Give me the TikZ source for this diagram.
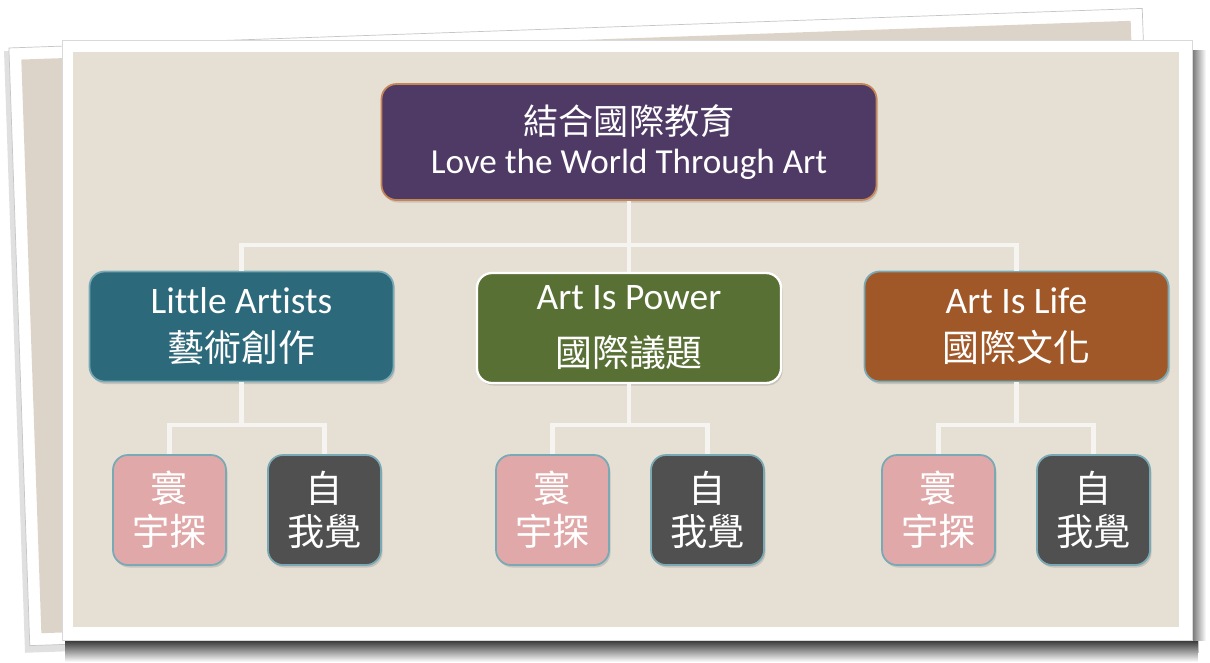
\documentclass[tikz,border=0pt]{standalone}
\usepackage{fontspec}
\setmainfont[Ligatures = NoCommon]{Carlito}
\newfontfamily\cjk{Noto Sans CJK TC}
\usepackage{tikz}
\usetikzlibrary{shadows}

\definecolor{paper}{RGB}{230,223,212}
\definecolor{paperdark}{RGB}{220,212,200}
\definecolor{boxpurple}{RGB}{79,57,101}
\definecolor{boxteal}{RGB}{44,105,122}
\definecolor{boxgreen}{RGB}{88,112,52}
\definecolor{boxbrown}{RGB}{160,88,40}
\definecolor{boxpink}{RGB}{224,168,168}
\definecolor{boxgrey}{RGB}{80,80,80}
\definecolor{edgeorange}{RGB}{197,133,84}
\definecolor{edgeteal}{RGB}{120,170,182}
\definecolor{chalkwhite}{RGB}{246,244,240}

\newcommand{\zh}[2][20]{{\cjk\fontsize{#1}{24}\selectfont #2}}

\begin{document}
\begin{tikzpicture}[line width = 1pt,
                        topbox/.style = {rectangle, rounded corners = 0.3cm, draw = edgeorange, fill = boxpurple, text = white, align = center, minimum width = 9.9cm, minimum height = 2.32cm, font = \fontsize{20}{21.8}\selectfont, drop shadow = {shadow xshift = 0.03cm, shadow yshift = -0.05cm, opacity = 0.3}},
                        midbox/.style = {rectangle, rounded corners = 0.3cm, draw = edgeteal, text = white, align = center, minimum width = 6.08cm, minimum height = 2.2cm, font = \fontsize{21.3}{27.3}\selectfont, drop shadow = {shadow xshift = 0.03cm, shadow yshift = -0.05cm, opacity = 0.3}},
                        leafbox/.style = {rectangle, rounded corners = 0.3cm, draw = edgeteal, text = white, align = center, minimum width = 2.26cm, minimum height = 2.2cm, font = \cjk\fontsize{21.2}{24.5}\selectfont, drop shadow = {shadow xshift = 0.03cm, shadow yshift = -0.05cm, opacity = 0.3}},
                        chalk/.style = {draw = chalkwhite, line width = 2.7pt}]
      \useasboundingbox (0, 0) rectangle (24.2, -13.24);
      \fill [white] (0, 0) rectangle (24.2, -13.24);

      % frames behind
      \filldraw [fill = white, draw = gray!45, line width = 0.4pt] (12, -1.3) rectangle (23.96, -13.04);
      \begin{scope}[rotate around = {2:(11.72, -6.54)}]
        \fill [black, opacity = 0.12] (0.28, -0.62) rectangle (23.0, -12.66);
        \filldraw [fill = white, draw = gray!45, line width = 0.4pt] (0.38, -0.56) rectangle (23.06, -12.52);
        \fill [paperdark] (0.62, -0.8) rectangle (22.82, -12.28);
      \end{scope}

      % front frame and its shadow
      \shade [top color = black!80, bottom color = white] (1.3, -12.8) rectangle (23.95, -13.24);
      \shade [left color = black!55, right color = white] (23.84, -1.0) rectangle (24.12, -12.8);
      \filldraw [fill = white, draw = gray!30, line width = 0.4pt] (1.24, -0.8) rectangle (23.84, -12.8);
      \fill [paper] (1.46, -1.04) rectangle (23.58, -12.54);

      \node [topbox] (top) at (12.58, -2.84){\zh{結合國際教育}\\Love the World Through Art};

      \node [midbox, fill = boxteal] (m1) at (4.83, -6.53){Little Artists\\\zh[21]{藝術創作}};
      \node [midbox, fill = boxgreen, draw = white, line width = 1.3pt, font = \fontsize{21.3}{32.4}\selectfont] (m2) at (12.58, -6.56){Art Is Power\\\zh[21]{國際議題}};
      \node [midbox, fill = boxbrown] (m3) at (20.33, -6.53){Art Is Life\\\zh[21]{國際文化}};

      \node [leafbox, fill = boxpink] (l1) at (3.39, -10.2){寰\\宇探};
      \node [leafbox, fill = boxgrey] (l2) at (6.49, -10.2){自\\我覺};
      \node [leafbox, fill = boxpink] (l3) at (11.05, -10.2){寰\\宇探};
      \node [leafbox, fill = boxgrey] (l4) at (14.15, -10.2){自\\我覺};
      \node [leafbox, fill = boxpink] (l5) at (18.77, -10.2){寰\\宇探};
      \node [leafbox, fill = boxgrey] (l6) at (21.87, -10.2){自\\我覺};

      \coordinate (s0) at (12.58, -4.9);
      \coordinate (s1) at (4.83, -8.5);
      \coordinate (s2) at (12.58, -8.5);
      \coordinate (s3) at (20.33, -8.5);

      \draw [chalk] (top) -- (m2);
      \draw [chalk] (m1.north) |- (s0) -| (m3.north);
      \draw [chalk] (m1) -- (s1);
      \draw [chalk] (l1.north) |- (s1) -| (l2.north);
      \draw [chalk] (m2) -- (s2);
      \draw [chalk] (l3.north) |- (s2) -| (l4.north);
      \draw [chalk] (m3) -- (s3);
      \draw [chalk] (l5.north) |- (s3) -| (l6.north);
    \end{tikzpicture}
\end{document}
